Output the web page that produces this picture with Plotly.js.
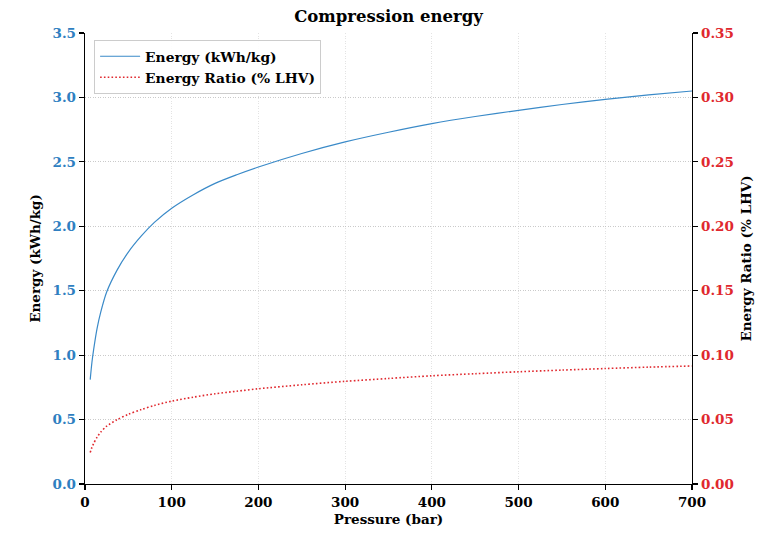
<!DOCTYPE html>
<html>
<head>
<meta charset="utf-8">
<script src="https://cdn.plot.ly/plotly-3.0.1.min.js"></script>
<style>html,body{margin:0;padding:0;background:#fff;}#chart{width:779px;height:536px;}</style>
</head>
<body>
<div id="chart"></div>
<script>
// Pressure (bar)
const pressure = [6, 8, 10, 14, 18, 25, 37, 50, 65, 80, 100, 125, 150, 175, 200, 250, 300, 350, 400, 450, 500, 550, 600, 650, 700];
// Energy (kWh/kg)
const energy = [0.81, 0.945, 1.045, 1.21, 1.33, 1.49, 1.66, 1.80, 1.925, 2.03, 2.14, 2.245, 2.333, 2.40, 2.46, 2.565, 2.655, 2.73, 2.797, 2.852, 2.90, 2.945, 2.985, 3.02, 3.05];
// Energy Ratio (% LHV)
const ratio = [0.0245, 0.0284, 0.0315, 0.0364, 0.0401, 0.0449, 0.0499, 0.0541, 0.0578, 0.0610, 0.0643, 0.0674, 0.0700, 0.0720, 0.0739, 0.0770, 0.0797, 0.0819, 0.0840, 0.0856, 0.0871, 0.0884, 0.0896, 0.0907, 0.0916];

const leftTicks = [0, 0.5, 1.0, 1.5, 2.0, 2.5, 3.0, 3.5];
const leftTickText = ["0.0", "0.5", "1.0", "1.5", "2.0", "2.5", "3.0", "3.5"];
const rightTicks = [0, 0.05, 0.10, 0.15, 0.20, 0.25, 0.30, 0.35];
const rightTickText = ["0.00", "0.05", "0.10", "0.15", "0.20", "0.25", "0.30", "0.35"];
const xTicks = [0, 100, 200, 300, 400, 500, 600, 700];

const FONT = "DejaVu Serif";
const BLUE = "#2f7fc1";
const RED = "#e0282e";

const traces = [
  {
    x: pressure, y: energy, type: "scatter", mode: "lines",
    name: "<b>Energy (kWh/kg)</b>",
    line: {color: "#3a8ac8", width: 1.2, shape: "spline", smoothing: 0.8},
    yaxis: "y"
  },
  {
    x: pressure, y: ratio, type: "scatter", mode: "lines",
    name: "<b>Energy Ratio (% LHV)</b>",
    line: {color: RED, width: 1.6, dash: "1.6px,2.2px", shape: "spline", smoothing: 0.8},
    yaxis: "y2"
  }
];

const layout = {
  width: 779, height: 536,
  paper_bgcolor: "#ffffff", plot_bgcolor: "#ffffff",
  margin: {l: 85, r: 87, t: 33, b: 52, pad: 0},
  font: {family: FONT, size: 13, color: "#000"},
  title: {text: "<b>Compression energy</b>", font: {family: FONT, size: 16.5, color: "#000"},
          x: 0.5, xanchor: "center", y: 0.97, yanchor: "middle", xref: "paper"},
  showlegend: true,
  legend: {
    x: 0.015, y: 0.985, xanchor: "left", yanchor: "top",
    bgcolor: "rgba(255,255,255,0.9)", bordercolor: "#cccccc", borderwidth: 1,
    font: {family: FONT, size: 13.8, color: "#000"},
    itemwidth: 40, tracegroupgap: 4
  },
  xaxis: {
    range: [0, 700], tickvals: xTicks, ticktext: xTicks.map(v => "<b>" + v + "</b>"),
    showline: true, linecolor: "#000", linewidth: 1.3, mirror: false,
    ticks: "outside", ticklen: 5, tickwidth: 1.2, tickcolor: "#000",
    tickfont: {family: FONT, size: 13.5, color: "#000"},
    showgrid: true, gridcolor: "#dcdcdc", gridwidth: 0.8, griddash: "1px,1.5px",
    zeroline: false,
    title: {text: "<b>Pressure (bar)</b>", font: {family: FONT, size: 13.5, color: "#000"}, standoff: 6}
  },
  yaxis: {
    range: [0, 3.5], tickvals: leftTicks, ticktext: leftTickText.map(v => "<b>" + v + "</b>"),
    showline: true, linecolor: "#000", linewidth: 1.3,
    ticks: "outside", ticklen: 5, tickwidth: 1.2, tickcolor: "#000",
    tickfont: {family: FONT, size: 13.5, color: BLUE},
    showgrid: true, gridcolor: "#bdbdbd", gridwidth: 0.8, griddash: "1px,1.5px",
    zeroline: false,
    title: {text: "<b>Energy (kWh/kg)</b>", font: {family: FONT, size: 13.5, color: "#000"}, standoff: 8}
  },
  yaxis2: {
    range: [0, 0.35], tickvals: rightTicks, ticktext: rightTickText.map(v => "<b>" + v + "</b>"),
    overlaying: "y", side: "right", anchor: "x",
    showline: true, linecolor: "#000", linewidth: 1.3,
    ticks: "outside", ticklen: 5, tickwidth: 1.2, tickcolor: "#000",
    tickfont: {family: FONT, size: 13.5, color: RED},
    showgrid: false, zeroline: false,
    title: {text: "<b>Energy Ratio (% LHV)</b>", font: {family: FONT, size: 13.5, color: "#000"}, standoff: 8}
  }
};

Plotly.newPlot("chart", traces, layout, {displayModeBar: false, staticPlot: true});
</script>
</body>
</html>
